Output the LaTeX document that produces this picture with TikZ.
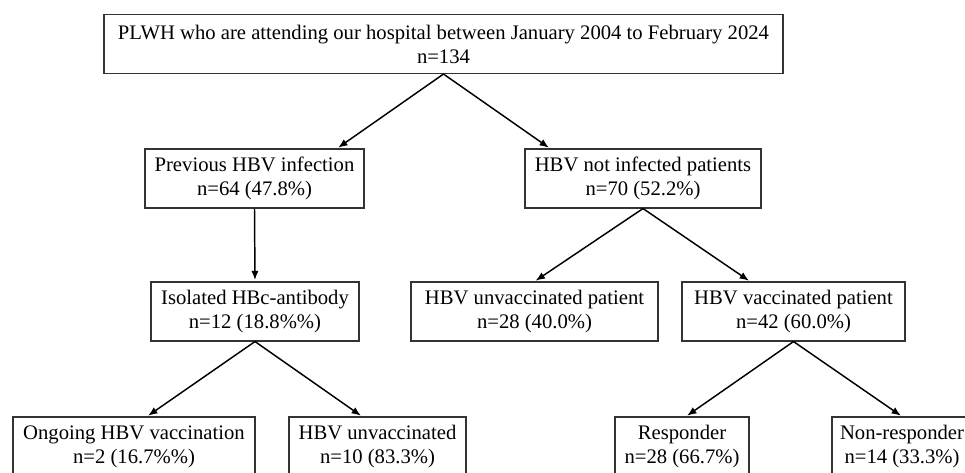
\documentclass[tikz,border=0pt]{standalone}
\usepackage{fontspec}
\setmainfont{Liberation Serif}
\usetikzlibrary{arrows.meta}
\begin{document}
\begin{tikzpicture}[x=0.75pt,y=-0.75pt,
  box/.style={rectangle, draw=black!80, line width=0.8pt, align=center, minimum height=44.25pt, inner sep=0pt, font=\fontsize{15.5}{18}\selectfont},
  arr/.style={-{Latex[length=7pt,width=5.5pt]}, line width=1.1pt, shorten >=1pt}]
\useasboundingbox (0,0) rectangle (965,472);
\clip (0,0) rectangle (965,472);
\node[box, minimum width=509.25pt] (all) at (443.5,44) {PLWH who are attending our hospital between January 2004 to February 2024\\n=134};
\node[box, minimum width=164.25pt] (prev) at (254.5,178.5) {Previous HBV infection\\n=64 (47.8\%)};
\node[box, minimum width=177pt] (noinf) at (643,178.5) {HBV not infected patients\\n=70 (52.2\%)};
\node[box, minimum width=156pt] (iso) at (255,311.5) {Isolated HBc-antibody\\n=12 (18.8\%\%)};
\node[box, minimum width=185.25pt] (unvp) at (534.5,311.5) {HBV unvaccinated patient\\n=28 (40.0\%)};
\node[box, minimum width=167.25pt] (vacp) at (793.5,311.5) {HBV vaccinated patient\\n=42 (60.0\%)};
\node[box, minimum width=181.5pt] (ongo) at (134,446.5) {Ongoing HBV vaccination\\n=2 (16.7\%\%)};
\node[box, minimum width=132.75pt] (unv) at (377.5,446.5) {HBV unvaccinated\\n=10 (83.3\%)};
\node[box, minimum width=100.5pt] (resp) at (682,446.5) {Responder\\n=28 (66.7\%)};
\node[box, minimum width=105pt] (nonr) at (902,446.5) {Non-responder\\n=14 (33.3\%)};
\draw[arr] (all.south) -- ([xshift=61.9pt]prev.north);
\draw[arr] (all.south) -- ([xshift=-69.75pt]noinf.north);
\draw[arr] (prev.south) -- (iso.north);
\draw[arr] (noinf.south) -- (unvp.north);
\draw[arr] (noinf.south) -- ([xshift=-32.6pt]vacp.north);
\draw[arr] (iso.south) -- ([xshift=9.75pt]ongo.north);
\draw[arr] (iso.south) -- ([xshift=-11.6pt]unv.north);
\draw[arr] (vacp.south) -- ([xshift=3pt]resp.north);
\draw[arr] (vacp.south) -- (nonr.north);
\end{tikzpicture}
\end{document}
